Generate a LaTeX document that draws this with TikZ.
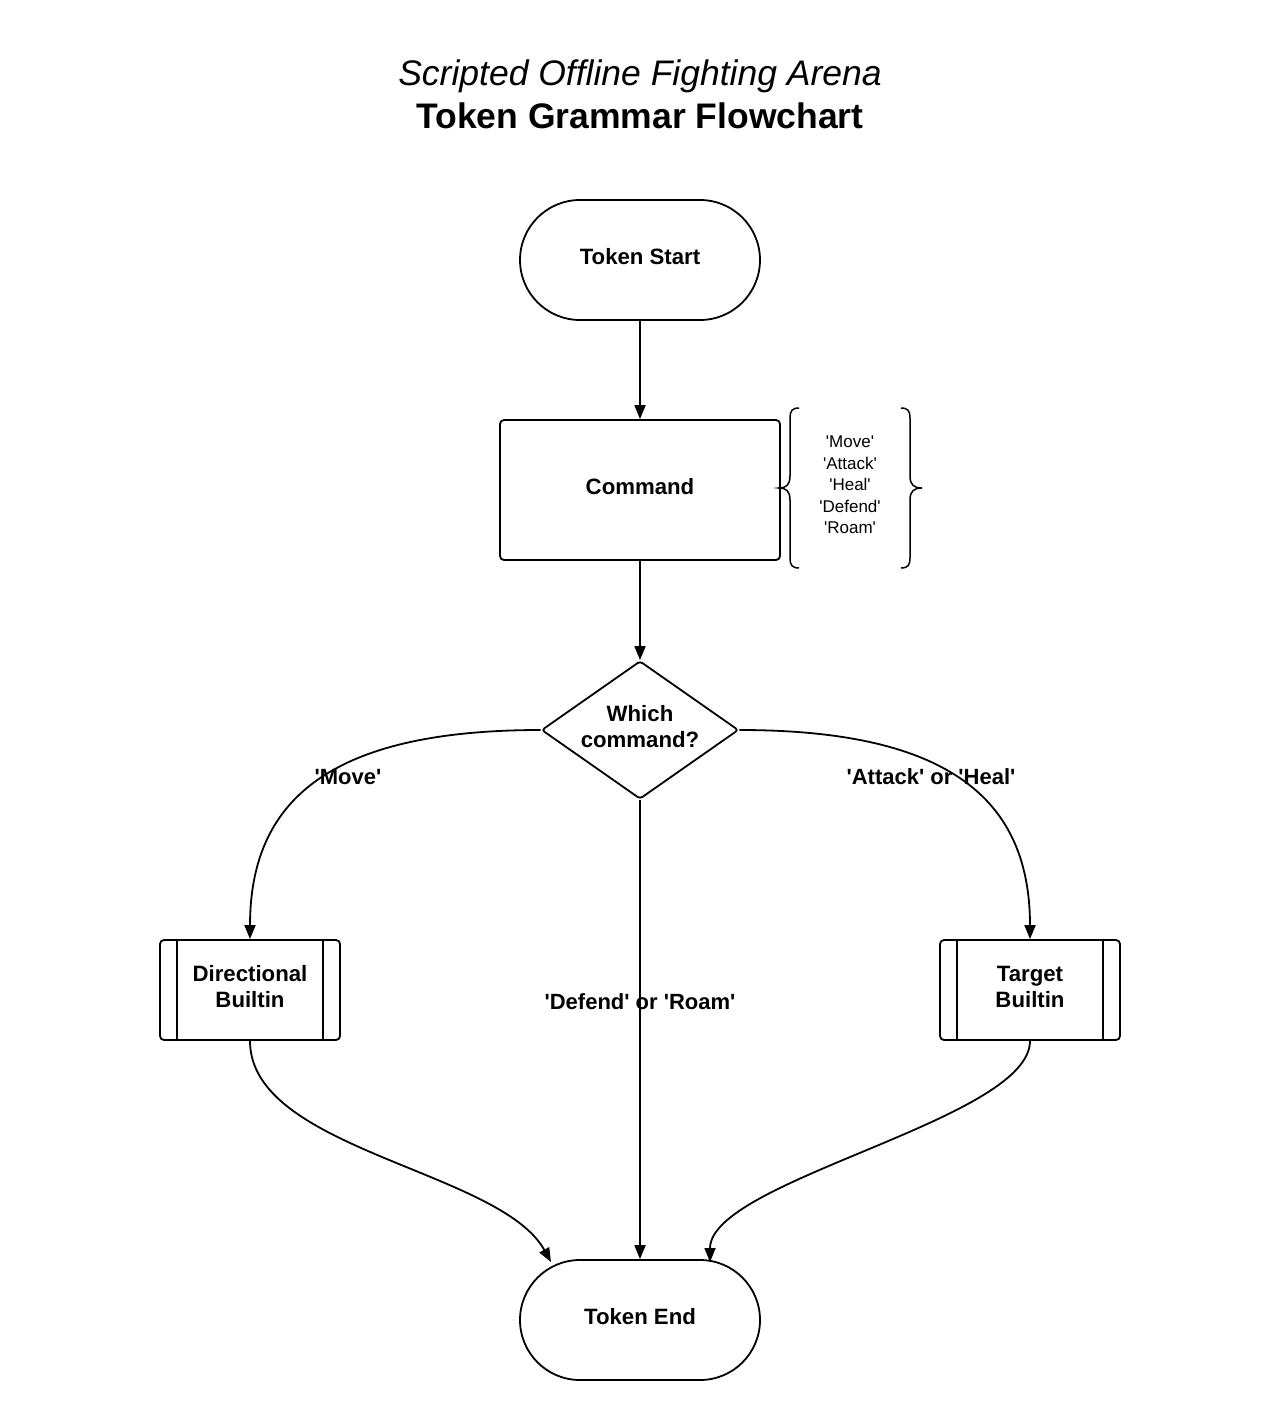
\documentclass[tikz,border=0pt]{standalone}
\usepackage{fontspec}
\setmainfont{Liberation Sans}[Ligatures=TeXOff]
\usetikzlibrary{shapes.geometric,arrows.meta}
\begin{document}
\begin{tikzpicture}[x=1pt,y=-1pt,
  every node/.style={font=\fontsize{22.2}{26}\selectfont\bfseries, align=center},
  base/.style={draw, line width=1.8pt, inner sep=0pt},
  stadium/.style={base, rectangle, rounded corners=60pt, minimum width=240pt, minimum height=120pt},
  procbox/.style={base, rectangle, rounded corners=4pt, minimum width=280pt, minimum height=140pt},
  predef/.style={base, rectangle, rounded corners=4pt, minimum width=180pt, minimum height=100pt},
  decision/.style={base, diamond, rounded corners=3pt, minimum width=197pt, minimum height=138pt, aspect=1.43},
  conn/.style={line width=1.8pt, -{Triangle[length=14pt,width=11pt]}},
  lbl/.style={font=\fontsize{22}{26}\selectfont\bfseries},
  txt/.style={draw=none, inner sep=0pt}
]
\useasboundingbox (0,0) rectangle (1280,1420);
\fill[white] (0,0) rectangle (1280,1420);

\node[font=\fontsize{35.5}{40}\selectfont\itshape] (t1) at (640,76) {Scripted Offline Fighting Arena};
\node[font=\fontsize{35.5}{40}\selectfont\bfseries] (t2) at (640,116) {Token Grammar Flowchart};

\node[stadium] (start) at (640,260) {};
\node[txt] (startt) at (640,257) {Token Start};
\node[procbox] (cmd) at (640,490) {};
\node[txt] (cmdt) at (640,487) {Command};
\node[decision] (which) at (640,730) {};
\node[txt] (whicht) at (640,727) {Which\\command?};
\node[predef] (dir) at (250,990) {};
\node[txt] (dirt) at (250,987) {Directional\\Builtin};
\node[predef] (tgt) at (1030,990) {};
\node[txt] (tgtt) at (1030,987) {Target\\Builtin};
\node[stadium] (end) at (640,1320) {};
\node[txt] (endt) at (640,1317) {Token End};

\draw[line width=1.8pt] ([xshift=18pt]dir.north west) -- ([xshift=18pt]dir.south west);
\draw[line width=1.8pt] ([xshift=-18pt]dir.north east) -- ([xshift=-18pt]dir.south east);
\draw[line width=1.8pt] ([xshift=18pt]tgt.north west) -- ([xshift=18pt]tgt.south west);
\draw[line width=1.8pt] ([xshift=-18pt]tgt.north east) -- ([xshift=-18pt]tgt.south east);

% brace annotation
\node[font=\fontsize{17}{21.6}\selectfont\mdseries] (opts) at (850,485) {'Move'\\'Attack'\\'Heal'\\'Defend'\\'Roam'};
\draw[line width=1.5pt] (799,408) .. controls (792,408) and (790,411) .. (790,418) -- (790,476)
  .. controls (790,485) and (786,488) .. (779,488)
  .. controls (786,488) and (790,491) .. (790,500) -- (790,558)
  .. controls (790,565) and (792,568) .. (799,568);
\draw[line width=1.5pt] (901,408) .. controls (908,408) and (910,411) .. (910,418) -- (910,476)
  .. controls (910,485) and (914,488) .. (922,488)
  .. controls (914,488) and (910,491) .. (910,500) -- (910,558)
  .. controls (910,565) and (908,568) .. (901,568);

% connectors
\draw[conn] (start.south) -- (cmd.north);
\draw[conn] (cmd.south) -- (which.north);
\draw[conn] (which.west) .. controls (330,730) and (250,800) .. (dir.north);
\draw[conn] (which.east) .. controls (950,730) and (1030,800) .. (tgt.north);
\draw[conn] (which.south) -- (end.north);
\coordinate (endL) at (551,1262);
\coordinate (endR) at (710,1262);
\draw[conn] (dir.south) .. controls (250,1150) and (500,1170) .. (endL);
\draw[conn] (tgt.south) .. controls (1030,1120) and (710,1180) .. (endR);

\node[lbl] (lmove) at (348,777) {'Move'};
\node[lbl] (latt) at (931,777) {'Attack' or 'Heal'};
\node[lbl] (ldef) at (640,1002) {'Defend' or 'Roam'};
\end{tikzpicture}
\end{document}
